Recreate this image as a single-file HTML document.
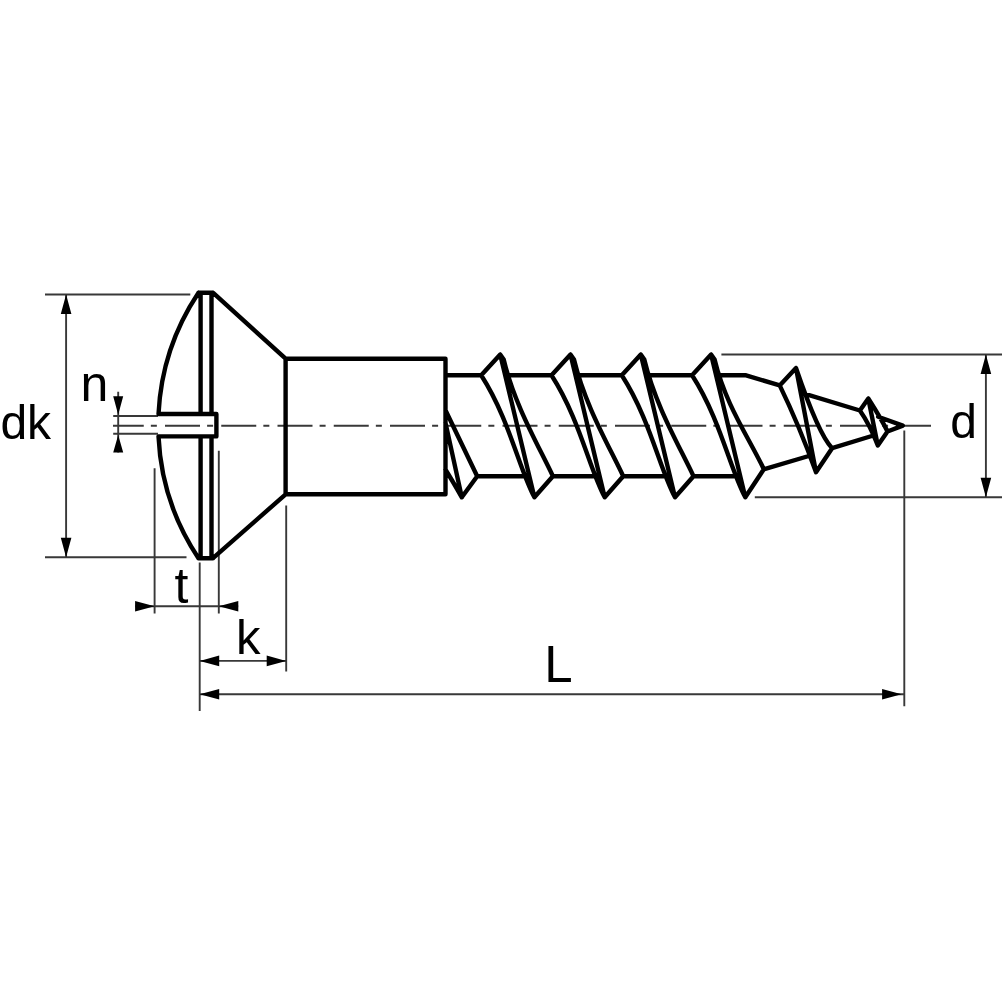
<!DOCTYPE html>
<html><head><meta charset="utf-8"><style>
html,body{margin:0;padding:0;background:#fff;width:1005px;height:1005px;overflow:hidden}
svg{display:block;will-change:transform}
text{font-family:"Liberation Sans",sans-serif;font-size:48px;fill:#000;}
</style></head><body>
<svg width="1005" height="1005" viewBox="0 0 1005 1005">
<rect width="1005" height="1005" fill="#fff"/>
<path d="M113 425.7H931" stroke="#383838" stroke-width="1.9" fill="none" stroke-dasharray="35 7.1 6 8.15" stroke-dashoffset="4.25"/>
<path d="M45 294.5L190.3 294.5M45 557.2L186.5 557.2M66.1 294.5L66.1 557.2M118.2 391.8L118.2 452.4M113.2 416L158 416M113.2 433.8L158 433.8M154.6 468.2L154.6 613.4M218.8 450.7L218.8 613.4M135.2 606.3L238.2 606.3M199.7 562.4L199.7 711M286.2 505.6L286.2 671.6M199.7 660.9L286.2 660.9M199.7 694.2L904.3 694.2M904.3 430.4L904.3 706.2M721.4 354.5L1002 354.5M754.8 497.2L1002 497.2M985.9 354.5L985.9 497.2" stroke="#383838" stroke-width="1.9" fill="none"/>
<path d="M66.1 294.5L71.4 314L60.8 314ZM66.1 557.2L60.8 537.7L71.4 537.7ZM118.2 414.8L113.2 396.3L123.2 396.3ZM118.2 435L123.2 452.5L113.2 452.5ZM154.6 606.3L135.1 611.6L135.1 601ZM218.8 606.3L238.3 601L238.3 611.6ZM199.7 660.9L219.2 655.6L219.2 666.2ZM286.2 660.9L266.7 666.2L266.7 655.6ZM199.7 694.2L219.2 688.9L219.2 699.5ZM901.6 694.2L882.1 699.5L882.1 688.9ZM985.9 354.5L991.2 374L980.6 374ZM985.9 497.2L980.6 477.7L991.2 477.7Z" fill="#000"/>
<path d="M198.5 292.7H212.7M198.5 558.2H213M198.5 292.7A239.3 239.3 0 0 0 158.5 414M158.5 436.4A239.3 239.3 0 0 0 198.5 558.2M200.6 292.7V414M200.6 436.4V558.2M211.5 292.7V414M211.5 436.4V558.2M158.5 414H216.4V436.4H158.5M213.2 292.9L285.6 358.7M213 558.2L285.6 494.3M285.6 358.7H445.5V494.3H285.6ZM481.2 375.3L500.2 354.6L534.4 497.3L552.9 476.2M481.2 375.3C509.1 418.6 519.4 469.7 534.4 497.3M500.2 354.6L503.7 359.6C514.6 405.2 538.3 445.2 552.9 476.2M551.5 375.3L570.5 354.6L604.7 497.3L623.2 476.2M551.5 375.3C579.4 418.6 589.7 469.7 604.7 497.3M570.5 354.6L574 359.6C584.9 405.2 608.6 445.2 623.2 476.2M621.8 375.3L640.8 354.6L675 497.3L693.5 476.2M621.8 375.3C649.7 418.6 660 469.7 675 497.3M640.8 354.6L644.3 359.6C655.2 405.2 678.9 445.2 693.5 476.2M692.1 375.3L711.1 354.6L745.3 497.3L763.8 469.2M692.1 375.3C720 418.6 730.3 469.7 745.3 497.3M711.1 354.6L714.6 359.6C725.5 405.2 749.2 438.2 763.8 469.2M445.5 410.3L477.2 476.2L461.8 497.3M445.4 422.4L461.8 497.3M445.4 469.5Q452 480 461.8 497.3M445.5 375.3H481.2M509.7 375.3H551.5M580 375.3H621.8M650.3 375.3H692.1M720.6 375.3H746.1L779.7 385.4M477.2 476.2H523.7M552.9 476.2H594M623.2 476.2H664.3M693.5 476.2H734.6M764.4 469.2L808.8 456M779.7 385.4L796 368L816 472.2L832.1 448.2M779.7 385.4Q799 425 816 472.2M796 368C808 403.2 821.7 437.6 832.1 448.2M805 393.8L859.9 410.5M832.1 448.2L871.8 436M859.9 410.5L868.3 398.5L877.8 445.5L887.5 431.5L902.8 425.6L878.2 416.8M859.9 410.5Q870 425 877.8 445.5M868.3 398.5Q882 420 887.5 431.5" stroke="#000" stroke-width="4.4" fill="none" stroke-linejoin="round" stroke-linecap="round"/>
<text x="0.4" y="439.1" style="font-size:48px">dk</text>
<text x="80.4" y="401.1" style="font-size:50px">n</text>
<text x="174.6" y="603.2" style="font-size:50px">t</text>
<text x="235.9" y="653.8" style="font-size:49px">k</text>
<text x="544.2" y="682.2" style="font-size:51px">L</text>
<text x="950.3" y="437.6" style="font-size:48px">d</text>
</svg>
</body></html>
